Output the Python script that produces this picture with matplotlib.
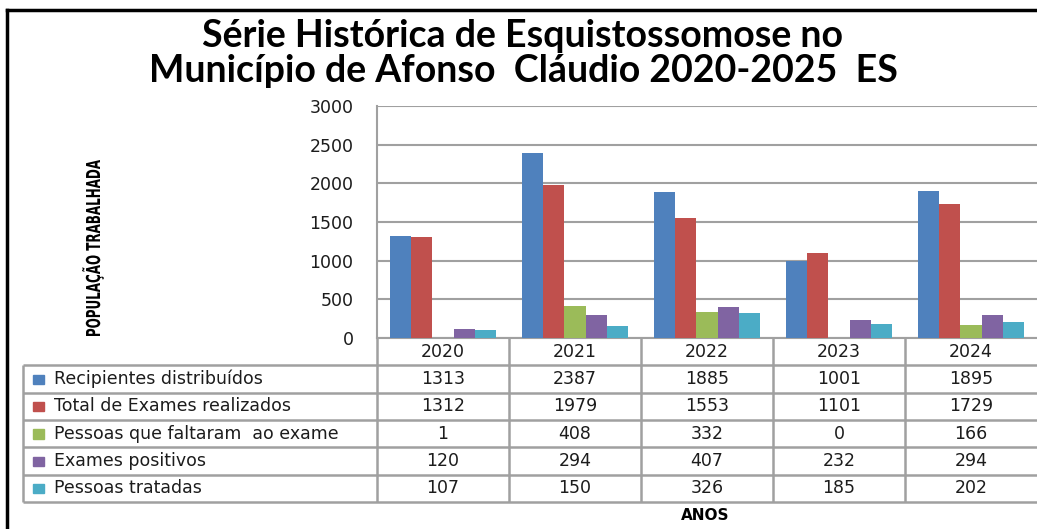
import numpy as np
import matplotlib.pyplot as plt
from matplotlib.patches import Rectangle, PathPatch
from matplotlib.textpath import TextPath
from matplotlib.font_manager import FontProperties
from matplotlib.transforms import Affine2D

years = ["2020", "2021", "2022", "2023", "2024"]
series_names = ["Recipientes distribuídos",
                "Total de Exames realizados",
                "Pessoas que faltaram  ao exame",
                "Exames positivos",
                "Pessoas tratadas"]
recipientes = [1313, 2387, 1885, 1001, 1895]
total_exames = [1312, 1979, 1553, 1101, 1729]
faltaram = [1, 408, 332, 0, 166]
positivos = [120, 294, 407, 232, 294]
tratadas = [107, 150, 326, 185, 202]
series = [recipientes, total_exames, faltaram, positivos, tratadas]
colors = ["#4F81BD", "#C0504D", "#9BBB59", "#8064A2", "#4BACC6"]

W, H = 1037, 529
fig = plt.figure(figsize=(W / 100, H / 100), dpi=100)

def box(x0, y0, x1, y1):
    # pixel box (top-left origin) -> figure fraction rect
    return [x0 / W, 1 - y1 / H, (x1 - x0) / W, (y1 - y0) / H]

grid_col = "#a0a0a0"
txt_col = "#1c1c1c"
fs = 12.5

# frame of the screenshot
fig.add_artist(plt.Line2D([7 / W, 7 / W], [0, 1 - 10 / H], color="black", lw=2.5))
fig.add_artist(plt.Line2D([7 / W, 1], [1 - 10 / H, 1 - 10 / H], color="black", lw=2.5))

# title
fig.text(523 / W, 1 - 36 / H, "Série Histórica de Esquistossomose no",
         ha="center", va="center", fontsize=27, family="Lato", weight="bold")
fig.text(523 / W, 1 - 71 / H, "Município de Afonso  Cláudio 2020-2025  ES",
         ha="center", va="center", fontsize=27, family="Lato", weight="bold")

# bar chart
ax = fig.add_axes(box(377, 106, 1037, 338))
x = np.arange(len(years))
bw = 0.16
for i, (vals, c) in enumerate(zip(series, colors)):
    ax.bar(x + (i - 2) * bw, vals, bw, color=c, zorder=3)
ax.set_xlim(-0.5, 4.5)
ax.set_ylim(0, 3000)
ax.set_yticks(range(0, 3001, 500))
ax.set_xticks([])
ax.tick_params(axis="y", length=0, pad=17, labelsize=fs, labelcolor=txt_col)
ax.grid(axis="y", color=grid_col, lw=1.5, zorder=0)
for s in ["top", "right"]:
    ax.spines[s].set_visible(False)
for s in ["left", "bottom"]:
    ax.spines[s].set_color(grid_col)
    ax.spines[s].set_linewidth(1.5)

# condensed, rotated y label (squeezed text path)
ylab = TextPath((0, 0), "POPULAÇÃO TRABALHADA", size=1,
                prop=FontProperties(family="DejaVu Sans", weight="bold"))
ext = ylab.get_extents()
tr = (Affine2D()
      .translate(-(ext.x0 + ext.x1) / 2, -0.365)
      .scale(176 / ext.width, 14 / 0.73)
      .rotate_deg(90)
      .translate(93, H - 248))
fig.add_artist(PathPatch(ylab, transform=tr, color="black", lw=0))

# data table below the chart
col_px = (1037 - 377) / 5
lab_w = (377 - 23) / col_px
tax = fig.add_axes(box(23, 338, 1037, 502))
tax.set_xlim(-lab_w, 5)
tax.set_ylim(6, 0)
tax.axis("off")
lk = dict(color=grid_col, lw=1.8, solid_capstyle="butt", clip_on=False)
for r in range(1, 7):
    tax.plot([-lab_w, 5], [r, r], **lk)
tax.plot([-lab_w, -lab_w], [1, 6], **lk)
for c in range(0, 5):
    tax.plot([c, c], [0, 6], **lk)

for j, yr in enumerate(years):
    tax.text(j + 0.5, 0.52, yr, ha="center", va="center", fontsize=fs, color=txt_col)
for i, (name, vals, c) in enumerate(zip(series_names, series, colors)):
    r = i + 1
    tax.add_patch(Rectangle((-lab_w + 10 / col_px, r + 0.34), 11 / col_px, 0.34,
                            color=c, clip_on=False))
    tax.text(-lab_w + 31 / col_px, r + 0.5, name, ha="left", va="center",
             fontsize=fs, color=txt_col)
    for j, v in enumerate(vals):
        tax.text(j + 0.5, r + 0.5, str(v), ha="center", va="center",
                 fontsize=fs, color=txt_col)

fig.text(705 / W, 1 - 515 / H, "ANOS", ha="center", va="center",
         fontsize=11, weight="bold", color="black")

fig.savefig("out.png", dpi=100)
